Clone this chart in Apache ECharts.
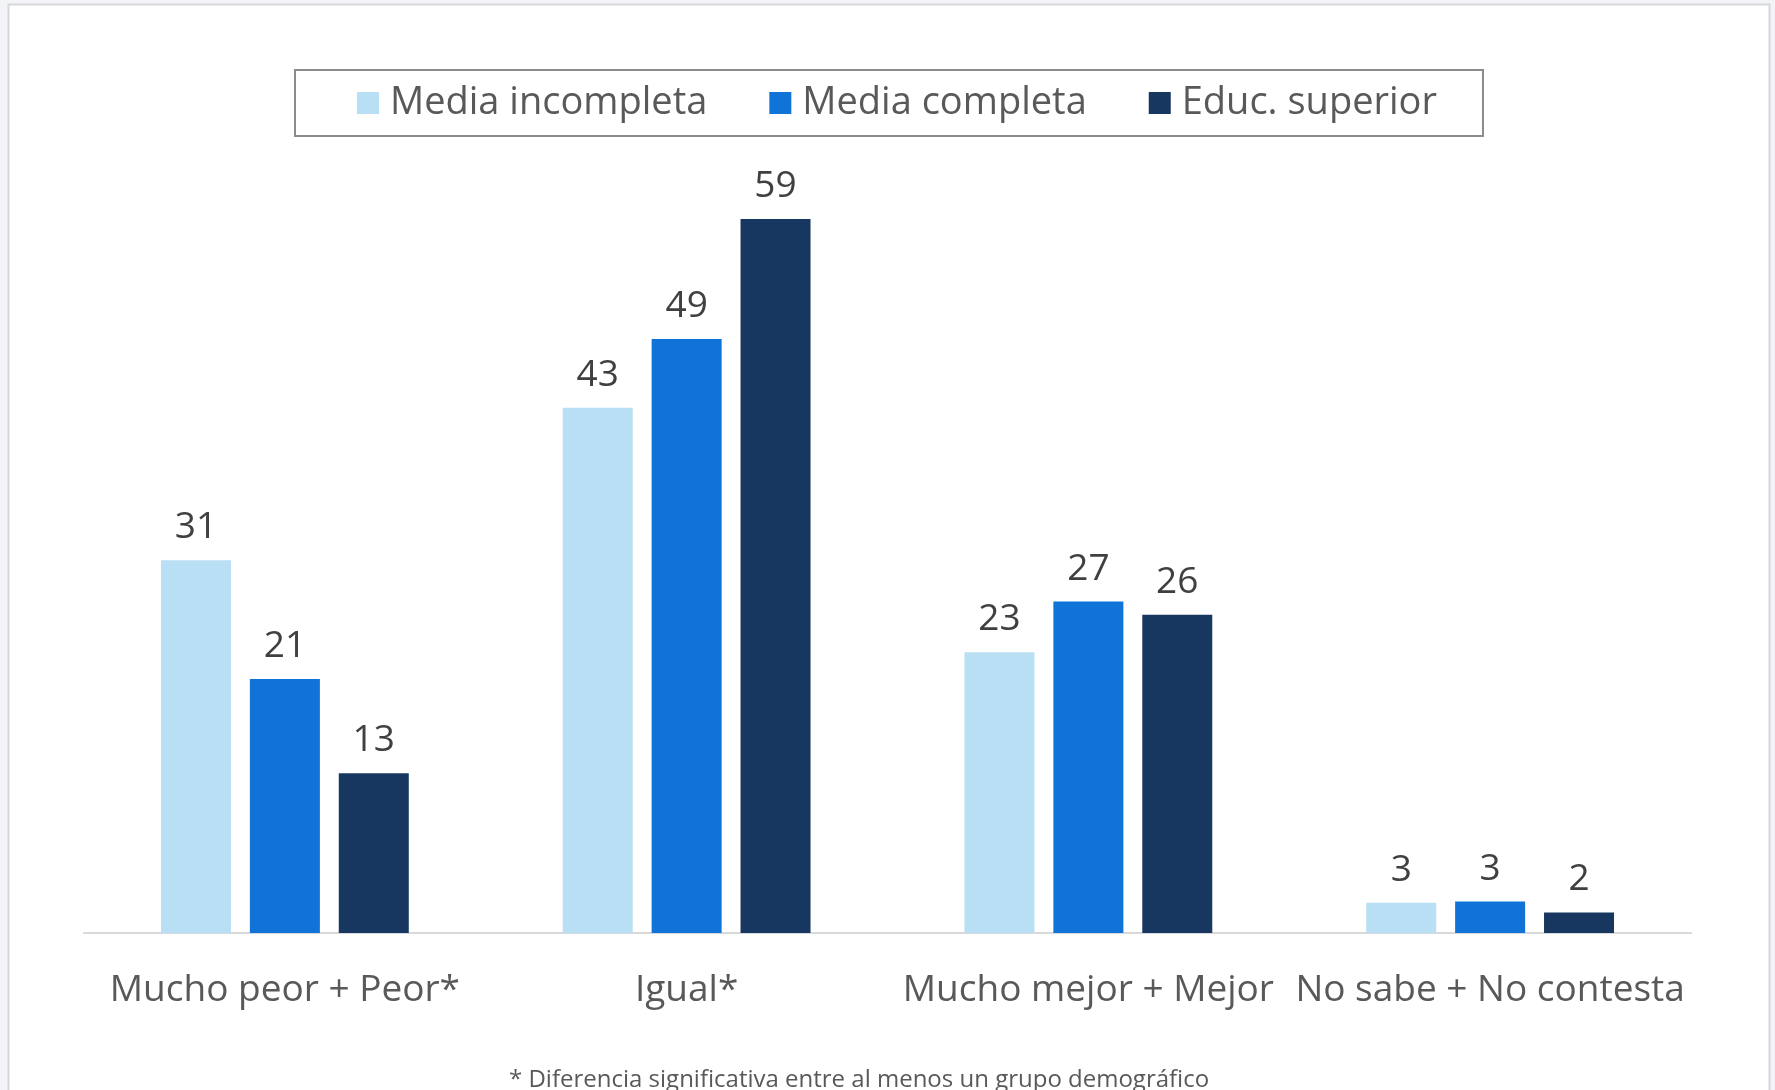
<!DOCTYPE html>
<html>
<head>
<meta charset="utf-8">
<script src="https://cdn.jsdelivr.net/npm/echarts@6/dist/echarts.min.js"></script>
<style>
  html, body { margin: 0; padding: 0; background: #f3f4f8; }
  #chart { width: 1775px; height: 1090px; }
</style>
</head>
<body>
<div id="chart"></div>
<script>
const categories = ['Mucho peor + Peor*', 'Igual*', 'Mucho mejor + Mejor', 'No sabe + No contesta'];
const seriesNames = ['Media incompleta', 'Media completa', 'Educ. superior'];
const mediaIncompleta = [30.8, 43.4, 23.2, 2.5];
const mediaCompleta = [21.0, 49.1, 27.4, 2.6];
const educSuperior = [13.2, 59.0, 26.3, 1.7];
const footnote = '* Diferencia significativa entre al menos un grupo demográfico';

const colors = ['#b9dff5', '#1073d7', '#183760'];
const FONT = '"Open Sans", "Noto Sans", sans-serif';

const chart = echarts.init(document.getElementById('chart'), null, { renderer: 'canvas' });

function mkSeries(name, data, color) {
  return {
    name: name,
    type: 'bar',
    data: data,
    barWidth: 70,
    barGap: '27%',
    itemStyle: { color: color },
    label: {
      show: true,
      position: 'top',
      distance: 14,
      color: '#404040',
      fontSize: 37,
      fontFamily: FONT,
      formatter: p => Math.round(p.value)
    }
  };
}

chart.setOption({
  animation: false,
  backgroundColor: 'transparent',
  color: colors,
  graphic: [
    {
      type: 'rect', z: -10, silent: true,
      shape: { x: 8.5, y: 4.5, width: 1761, height: 1200 },
      style: { fill: '#ffffff', stroke: '#d7d7d9', lineWidth: 2 }
    },
    {
      type: 'text', left: 509, top: 1068, silent: true,
      style: { text: footnote, fill: '#595959', fontSize: 24, fontFamily: FONT }
    }
  ],
  legend: {
    data: seriesNames,
    left: 295,
    top: 70,
    itemWidth: 22,
    itemHeight: 22,
    itemGap: 62,
    icon: 'rect',
    borderColor: '#8c8c8c',
    borderWidth: 2,
    padding: [13, 46, 13, 62],
    textStyle: { color: '#595959', fontSize: 38, fontFamily: FONT, padding: [0, 0, 0, 6], lineHeight: 40 }
  },
  grid: { left: 84, right: 84, top: 207, bottom: 157, containLabel: false },
  xAxis: {
    type: 'category',
    data: categories,
    axisLine: { show: true, lineStyle: { color: '#d9d9d9', width: 2 } },
    axisTick: { show: false },
    axisLabel: { color: '#595959', fontSize: 37, fontFamily: FONT, margin: 39, interval: 0 }
  },
  yAxis: {
    type: 'value',
    min: 0,
    max: 60,
    show: false,
    splitLine: { show: false }
  },
  series: [
    mkSeries(seriesNames[0], mediaIncompleta, colors[0]),
    mkSeries(seriesNames[1], mediaCompleta, colors[1]),
    mkSeries(seriesNames[2], educSuperior, colors[2])
  ]
});
</script>
</body>
</html>
